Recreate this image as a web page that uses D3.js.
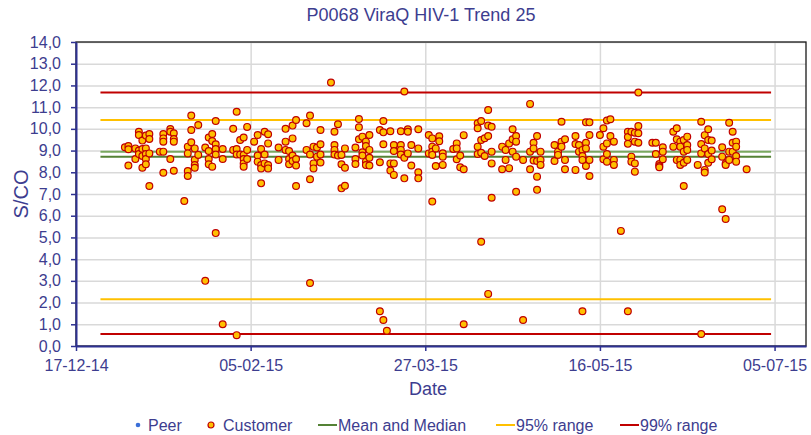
<!DOCTYPE html>
<html lang="en">
<head>
  <meta charset="UTF-8">
  <title>P0068 ViraQ HIV-1 Trend 25</title>
  <script src="https://d3js.org/d3.v7.min.js"></script>
  <style>
    body {
      margin: 0;
      padding: 0;
      background: #fff;
      font-family: "Liberation Sans", Arial, sans-serif;
    }
    svg text {
      fill: #3d3d8f;
    }
  </style>
</head>
<body>
  <div id="chart"></div>

  <script>
    // days since 17-12-14, one entry per run date
    const runDays = [14, 15, 17, 18, 19, 20, 21, 24, 25, 27, 28, 31, 32, 33, 34, 35, 37, 38, 39, 40,
      42, 45, 46, 47, 48, 49, 51, 52, 53, 54, 55, 58, 60, 61, 62, 63, 66, 67, 68, 69,
      70, 73, 74, 75, 76, 77, 80, 81, 82, 83, 84, 87, 88, 89, 90, 91, 93, 94, 95, 96,
      98, 101, 102, 103, 104, 105, 108, 109, 110, 111, 115, 116, 117, 118, 119, 122, 123, 124, 125, 126,
      128, 130, 131, 132, 133, 137, 138, 139, 140, 143, 144, 145, 146, 147, 150, 151, 152, 153, 154, 156,
      158, 159, 160, 161, 165, 166, 167, 168, 171, 172, 173, 174, 175, 178, 179, 180, 181, 182, 185, 186,
      187, 188, 189, 192];

    // customer S/CO results for each run date
    const customerValues = [
      [9.15], [9.21, 9.06, 8.31], [9.10, 8.61], [9.87, 9.72, 9.00, 8.84], [9.46, 9.07, 8.75, 8.21],
      [9.69, 9.10, 8.84, 8.61, 8.37], [9.76, 9.53, 8.87, 7.37], [8.95], [9.76, 9.56, 9.41, 8.95, 7.98],
      [9.99, 9.87, 8.61], [9.80, 9.53, 9.41, 8.07], [6.68], [9.18, 8.87, 8.06, 7.83], [10.61, 9.95, 9.38],
      [9.10, 8.57, 8.33, 8.21], [10.18, 8.80], [9.14, 3.0], [9.60, 8.98, 8.61, 8.37], [9.76, 9.44, 8.26],
      [10.36, 9.29, 9.07, 8.82, 5.2],
      [9.07, 8.61, 1.0], [10.0, 9.03], [10.79, 9.07, 8.82, 0.5], [9.49, 8.82], [9.60, 8.80, 8.61, 8.41, 8.26],
      [10.09, 9.03, 8.61], [9.41], [9.72, 8.77, 8.49], [9.07, 8.33, 8.18, 7.49], [9.87, 8.82, 8.41],
      [9.75, 9.33, 8.33, 8.18], [9.14, 8.57], [10.0, 9.41, 9.03], [8.98, 8.61, 8.37], [10.15, 9.56, 8.77, 8.52],
      [10.41, 8.61, 8.31, 7.37], [10.26, 9.03], [10.61, 8.82, 7.68, 2.9], [9.18, 8.41, 8.18], [9.14, 8.72],
      [9.95, 9.29, 8.82, 8.45], [12.13], [9.87, 9.26, 9.03, 8.82], [10.21, 8.77], [8.80, 8.37, 7.26],
      [9.10, 8.21, 7.38], [9.14, 8.61, 8.38], [10.45, 10.07, 9.52], [9.64, 8.92, 8.77], [9.41, 9.21, 8.49, 8.33],
      [9.72, 9.03, 8.67, 8.31], [9.95, 8.46, 1.6], [10.36, 9.84, 9.29, 1.2], [0.7], [9.89, 8.41, 8.08],
      [9.26, 8.98, 8.41, 7.88], [9.89, 9.26, 9.03, 8.82], [11.72, 8.67, 7.72], [9.98, 9.87, 8.87], [9.26, 8.31],
      [9.98, 9.10, 8.0, 7.72], [9.72, 8.87], [9.56, 9.18, 8.95, 8.80, 6.65], [9.10, 8.29], [9.66, 9.43],
      [8.88, 8.72, 8.34], [9.07], [9.33, 9.10, 8.60], [8.77, 8.23], [9.71, 8.14, 1.0],
      [10.26, 10.03, 9.18, 8.84], [10.36, 9.49, 8.90, 4.8], [9.57, 8.75], [10.87, 10.15, 9.67, 2.4],
      [10.10, 8.95, 8.41, 6.83], [9.18, 8.14], [9.03, 8.57], [9.33, 8.19], [9.98, 9.52, 8.95],
      [9.67, 9.41, 8.72, 7.10],
      [8.57, 1.2], [11.15, 8.95, 8.14], [9.36, 9.10, 8.54], [9.67, 8.52, 7.80, 7.19], [8.95, 8.57, 8.34],
      [9.26, 8.52], [8.95, 8.80], [10.33, 9.41, 9.18], [9.52, 8.57, 8.14], [9.67, 9.30, 8.11],
      [9.26, 8.95], [9.03, 8.75, 8.57, 1.6], [10.30, 9.36, 9.10, 8.29], [10.30, 9.72, 8.57, 7.83], [9.72],
      [10.03, 9.18, 8.60], [10.38, 9.33, 8.84, 8.49], [10.44, 9.67], [9.41, 8.57, 8.34], [5.3],
      [9.87, 9.62, 9.31, 1.6], [9.87, 8.72, 8.49], [9.82, 9.41, 8.41, 8.03], [11.67, 10.13, 9.80, 9.36], [9.36],
      [9.36, 8.84], [8.38, 8.29, 8.23], [9.15, 8.95, 8.60], [9.87, 9.18], [10.03, 9.52, 8.57],
      [9.41, 9.18, 8.57, 8.34], [9.49, 8.95, 8.44, 7.37], [9.64, 9.26, 9.03, 8.57], [8.34], [10.33, 9.30, 8.87, 0.55],
      [9.71, 9.10, 8.11, 7.99], [9.98, 9.49, 8.84, 8.44], [9.46, 9.00, 8.60], [9.15, 8.72, 6.30], [8.41, 8.34, 5.85],
      [10.28, 8.95, 8.57], [9.87, 9.36, 8.95], [9.41, 9.18, 8.75, 8.49], [8.14]
    ];

    const peerValues = [];

    // reference lines: mean, median, 95% and 99% ranges
    const meanValue = 8.94;
    const medianValue = 8.72;
    const range95 = [2.15, 10.41];
    const range99 = [0.55, 11.67];
    const lineSpan = [7, 199];

    const xTickDays = [0, 50, 100, 150, 200];
    const yTicks = d3.range(0, 15);
    const legendLabels = ["Peer", "Customer", "Mean and Median", "95% range", "99% range"];

    const startDate = new Date(2014, 11, 17);
    const dayToDate = d => d3.timeDay.offset(startDate, d);

    const W = 811, H = 435;
    const plot = { left: 76, right: 806, top: 42, bottom: 346 };

    const svg = d3.select("#chart")
      .append("svg")
      .attr("width", W)
      .attr("height", H);

    const x = d3.scaleTime()
      .domain([startDate, dayToDate(209)])
      .range([plot.left, plot.right]);

    const y = d3.scaleLinear()
      .domain([0, 14])
      .range([plot.bottom, plot.top]);

    // horizontal gridlines
    svg.append("g")
      .attr("transform", `translate(${plot.left},0)`)
      .call(d3.axisLeft(y).tickValues(yTicks.slice(1)).tickSize(-(plot.right - plot.left)).tickFormat(""))
      .call(g => g.select(".domain").remove())
      .selectAll("line")
      .attr("stroke", "#d9d9d9")
      .attr("stroke-width", 1.5);

    // vertical gridlines
    svg.append("g")
      .attr("transform", `translate(0,${plot.bottom})`)
      .call(d3.axisBottom(x).tickValues(xTickDays.slice(1).map(dayToDate)).tickSize(-(plot.bottom - plot.top)).tickFormat(""))
      .call(g => g.select(".domain").remove())
      .selectAll("line")
      .attr("stroke", "#d9d9d9")
      .attr("stroke-width", 1.5);

    // reference lines
    const refLines = [
      { v: range99[1], color: "#c00000" },
      { v: range95[1], color: "#ffc000" },
      { v: meanValue, color: "#7aa860" },
      { v: medianValue, color: "#548235" },
      { v: range95[0], color: "#ffc000" },
      { v: range99[0], color: "#c00000" }
    ];
    svg.append("g")
      .selectAll("line")
      .data(refLines)
      .enter()
      .append("line")
      .attr("x1", x(dayToDate(lineSpan[0])))
      .attr("x2", x(dayToDate(lineSpan[1])))
      .attr("y1", d => y(d.v))
      .attr("y2", d => y(d.v))
      .attr("stroke", d => d.color)
      .attr("stroke-width", 2);

    // flatten customer results
    const points = [];
    runDays.forEach((d, i) => {
      customerValues[i].forEach(v => points.push({ date: dayToDate(d), v: v }));
    });

    svg.append("g")
      .selectAll("circle")
      .data(points)
      .enter()
      .append("circle")
      .attr("cx", d => x(d.date))
      .attr("cy", d => y(d.v))
      .attr("r", 3.4)
      .attr("fill", "#ffc000")
      .attr("stroke", "#c00000")
      .attr("stroke-width", 1.2);

    // frame
    svg.append("rect")
      .attr("x", plot.left)
      .attr("y", plot.top)
      .attr("width", plot.right - plot.left)
      .attr("height", plot.bottom - plot.top)
      .attr("fill", "none")
      .attr("stroke", "#1a1a1a")
      .attr("stroke-width", 1.3);

    // y axis
    const yAxis = svg.append("g")
      .attr("transform", `translate(${plot.left},0)`)
      .call(d3.axisLeft(y).tickValues(yTicks).tickSize(5).tickSizeOuter(0)
        .tickFormat(d => d3.format(".1f")(d).replace(".", ",")));
    yAxis.select(".domain").attr("stroke", "#2e3192").attr("stroke-width", 2);
    yAxis.selectAll(".tick line").attr("stroke", "#2e3192").attr("stroke-width", 1.5);
    yAxis.selectAll("text")
      .attr("x", -15)
      .style("font-family", "'Liberation Sans', Arial, sans-serif")
      .style("font-size", "16px");

    // x axis
    const xAxis = svg.append("g")
      .attr("transform", `translate(0,${plot.bottom})`)
      .call(d3.axisBottom(x).tickValues(xTickDays.map(dayToDate)).tickSize(5).tickSizeOuter(0)
        .tickFormat(d3.timeFormat("%d-%m-%y")));
    xAxis.select(".domain").attr("stroke", "#2e3192").attr("stroke-width", 2);
    xAxis.selectAll(".tick line").attr("stroke", "#2e3192").attr("stroke-width", 1.5);
    xAxis.selectAll("text")
      .attr("y", 14)
      .style("font-family", "'Liberation Sans', Arial, sans-serif")
      .style("font-size", "16px");

    // titles
    svg.append("text")
      .attr("x", 421)
      .attr("y", 21)
      .attr("text-anchor", "middle")
      .style("font-size", "18px")
      .text("P0068 ViraQ HIV-1 Trend 25");

    svg.append("text")
      .attr("x", 428)
      .attr("y", 395)
      .attr("text-anchor", "middle")
      .style("font-size", "18px")
      .text("Date");

    svg.append("text")
      .attr("transform", `translate(28,${(plot.top + plot.bottom) / 2}) rotate(-90)`)
      .attr("text-anchor", "middle")
      .style("font-size", "20px")
      .text("S/CO");

    // legend
    const legend = svg.append("g").attr("transform", "translate(0,425)");
    const legendItems = [
      { label: legendLabels[0], type: "peer", x: 138 },
      { label: legendLabels[1], type: "customer", x: 211 },
      { label: legendLabels[2], type: "line", color: "#548235", x: 318 },
      { label: legendLabels[3], type: "line", color: "#ffc000", x: 496 },
      { label: legendLabels[4], type: "line", color: "#c00000", x: 620 }
    ];
    legendItems.forEach(it => {
      let tx;
      if (it.type === "peer") {
        legend.append("circle").attr("cx", it.x).attr("cy", 0).attr("r", 2.3).attr("fill", "#3a6fd8");
        tx = it.x + 10;
      } else if (it.type === "customer") {
        legend.append("circle").attr("cx", it.x).attr("cy", 0).attr("r", 3)
          .attr("fill", "#ffc000").attr("stroke", "#c00000").attr("stroke-width", 1.2);
        tx = it.x + 12;
      } else {
        legend.append("line").attr("x1", it.x).attr("x2", it.x + 19).attr("y1", 0).attr("y2", 0)
          .attr("stroke", it.color).attr("stroke-width", 2);
        tx = it.x + 20;
      }
      legend.append("text")
        .attr("x", tx)
        .attr("y", 5.5)
        .style("font-size", "16px")
        .text(it.label);
    });
  </script>
</body>
</html>
